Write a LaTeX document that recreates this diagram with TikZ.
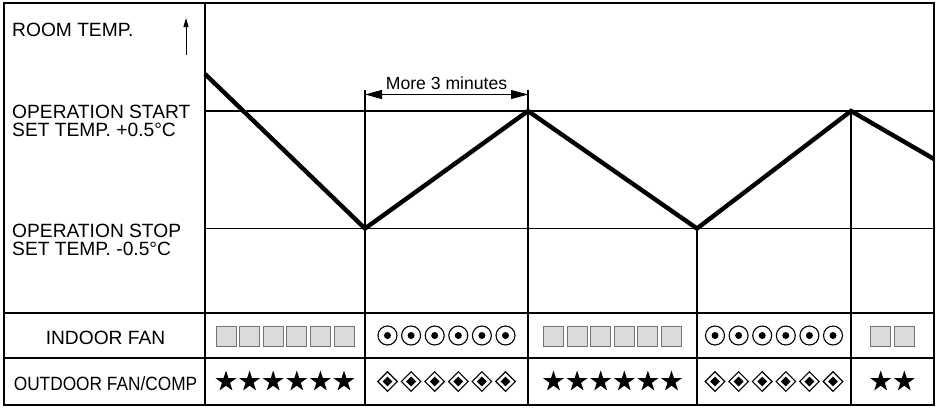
\documentclass[tikz,border=0pt]{standalone}
\usepackage{fontspec}
\setmainfont{Liberation Sans}
\newfontfamily\condsans[FakeStretch=0.9]{Liberation Sans}
\usetikzlibrary{shapes.geometric,arrows.meta}
\begin{document}
\begin{tikzpicture}[x=1pt,y=-1pt,
  lbl/.style={font=\fontsize{19.2}{22}\selectfont, inner sep=0pt},
  slbl/.style={font=\condsans\fontsize{19.2}{22}\selectfont, inner sep=0pt},
  mlbl/.style={font=\fontsize{17.6}{20}\selectfont, inner sep=0pt},
  frameline/.style={line width=1.8pt},
  gridline/.style={line width=1.3pt},
  templine/.style={line width=4.4pt, line join=miter},
  sqsym/.style={rectangle, draw=black!55, fill=black!14, line width=0.9pt, minimum size=20pt, inner sep=0pt},
  circsym/.style={circle, draw=black, line width=1.1pt, minimum size=19pt, inner sep=0pt},
  dotsym/.style={circle, fill=black, minimum size=7pt, inner sep=0pt},
  starsym/.style={star, star points=5, star point ratio=2.618, fill=black, minimum size=22pt, inner sep=0pt},
  diasym/.style={diamond, draw=black, line width=1.1pt, minimum size=20pt, inner sep=0pt},
  diainner/.style={diamond, fill=black, minimum size=10pt, inner sep=0pt}]
\useasboundingbox (0,0) rectangle (937,408);

% frame and table
\draw[frameline] (4,3) rectangle (934,405);
\draw[frameline] (4,313) -- (934,313);
\draw[frameline] (4,358) -- (934,358);
\draw[frameline] (205,3) -- (205,405);

% temperature levels
\draw[gridline] (205,111) -- (934,111);
\draw[gridline] (205,228.5) -- (934,228.5);

% vertical dividers
\draw[gridline] (365,90) -- (365,405);
\draw[gridline] (528,90) -- (528,405);
\draw[gridline] (697,228.5) -- (697,405);
\draw[gridline] (851,111) -- (851,405);

% temperature curve
\coordinate (p0) at (205,74);
\coordinate (p1) at (365,228.5);
\coordinate (p2) at (528,111);
\coordinate (p3) at (697,228.5);
\coordinate (p4) at (851,111);
\coordinate (p5) at (934,159);
\draw[templine] (p0) -- (p1) -- (p2) -- (p3) -- (p4) -- (p5);

% dimension
\coordinate (d0) at (365,94.5);
\coordinate (d1) at (528,94.5);
\draw[line width=1pt, {Triangle[length=17pt,width=9pt]}-{Triangle[length=17pt,width=9pt]}] (d0) -- (d1);
\node[mlbl, anchor=base] (dimlbl) at (446.5,89.5) {More 3 minutes};

% left labels
\node[lbl, anchor=base west] (room) at (12,36) {ROOM TEMP.};
\coordinate (ua0) at (186,55);
\coordinate (ua1) at (186,18);
\draw[line width=1pt, -{Triangle[length=9pt,width=5pt]}] (ua0) -- (ua1);
\node[lbl, anchor=base west] (start1) at (12,118.5) {OPERATION START};
\node[lbl, anchor=base west] (start2) at (12,136.5) {SET TEMP. +0.5°C};
\node[lbl, anchor=base west] (stop1) at (12,237) {OPERATION STOP};
\node[lbl, anchor=base west] (stop2) at (12,255) {SET TEMP. -0.5°C};
\node[lbl, anchor=base] (indoor) at (105.5,344) {INDOOR FAN};
\node[slbl, anchor=base] (outdoor) at (105.5,390) {OUTDOOR FAN/COMP};

% symbols
\foreach \c/\n/\t [count=\k] in {285/6/1, 446.5/6/2, 612.5/6/1, 774/6/2, 892.5/2/1} {
  \foreach \i in {1,...,\n} {
    \pgfmathsetmacro\xx{\c+(\i-(\n+1)/2)*23.6}
    \ifnum\t=1
      \node[sqsym] (fan-\k-\i) at (\xx,336) {};
      \node[starsym] (comp-\k-\i) at (\xx,381.5) {};
    \else
      \node[circsym] (fan-\k-\i) at (\xx,335.5) {};
      \node[dotsym] (fandot-\k-\i) at (\xx,335.5) {};
      \node[diasym] (comp-\k-\i) at (\xx,381.5) {};
      \node[diainner] (compin-\k-\i) at (\xx,381.5) {};
    \fi
  }
}
\end{tikzpicture}
\end{document}
